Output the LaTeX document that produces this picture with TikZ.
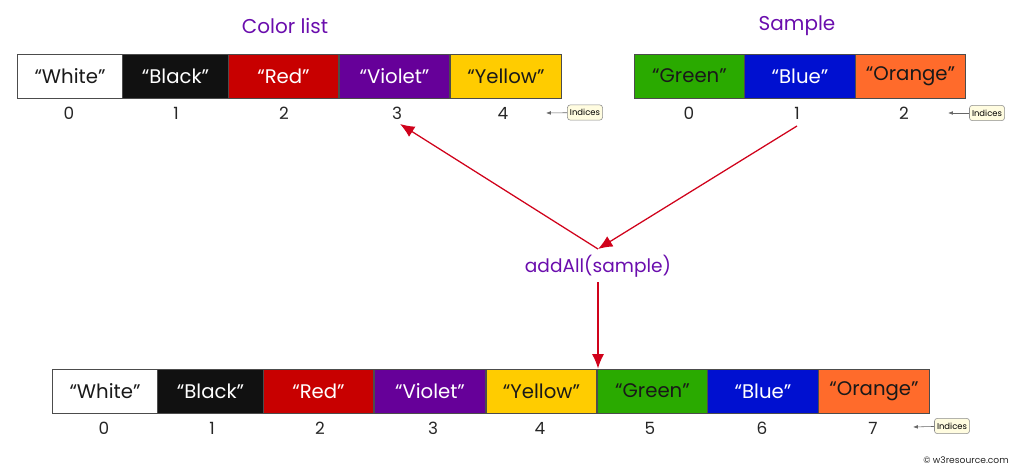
\documentclass[tikz,border=0pt]{standalone}
\usepackage{fontspec}
\setmainfont{Poppins}
\usepackage{xcolor}
\usetikzlibrary{arrows.meta,positioning,calc}
\definecolor{titlevio}{HTML}{6A0DAD}
\definecolor{arrred}{HTML}{D0021B}
\definecolor{cWhite}{HTML}{FFFFFF}
\definecolor{cBlack}{HTML}{111111}
\definecolor{cRed}{HTML}{C80000}
\definecolor{cViolet}{HTML}{660099}
\definecolor{cYellow}{HTML}{FFCC00}
\definecolor{cGreen}{HTML}{2AAA00}
\definecolor{cBlue}{HTML}{0010D0}
\definecolor{cOrange}{HTML}{FF6B2B}
\definecolor{notefill}{HTML}{FFFCE0}

\begin{document}
\begin{tikzpicture}[x=0.025cm,y=-0.025cm,
      every node/.style={font=\fontsize{14}{16}\selectfont},
      cell/.style={draw=black!70,line width=0.6pt,minimum width=2.76cm,minimum height=1.1cm,inner sep=0pt},
      narrow/.style={minimum width=2.64cm},
      lite/.style={text=black!90},
      dark/.style={text=white},
      idx/.style={font=\fontsize{12}{14}\selectfont,text=black!85,inner sep=1pt},
      title/.style={font=\fontsize{14.2}{17}\selectfont,text=titlevio},
      note/.style={draw=black!45,fill=notefill,rounded corners=2pt,font=\fontsize{6}{7}\selectfont,inner sep=1.8pt,minimum height=0.38cm},
      notearr/.style={-{Latex[length=1.2mm,width=0.9mm]},draw=black!60,line width=0.4pt},
      arr/.style={-{Latex[length=3.6mm,width=3mm]},draw=arrred,line width=0.9pt}
  ]
    \useasboundingbox (0,0) rectangle (1022,471);

    % titles
    \node[title] (ctitle) at (285,26) {Color list};
    \node[title] (stitle) at (797,26) {Sample};

    % color list
    \node[cell,narrow,fill=cWhite,lite] (c0) at (70,76) {“White”};
    \node[cell,narrow,fill=cBlack,dark] (c1) at (175.5,76) {“Black”};
    \node[cell,fill=cRed,dark] (c2) at (283.5,76) {“Red”};
    \node[cell,fill=cViolet,dark] (c3) at (394.5,76) {“Violet”};
    \node[cell,fill=cYellow,lite] (c4) at (506,76) {“Yellow”};

    \node[idx] (c0i) at (69,113) {0};
    \node[idx] (c1i) at (176,113) {1};
    \node[idx] (c2i) at (284,113) {2};
    \node[idx] (c3i) at (397,113) {3};
    \node[idx] (c4i) at (503,113) {4};

    % sample
    \node[cell,fill=cGreen,lite] (s0) at (689.5,76) {“Green”};
    \node[cell,fill=cBlue,dark] (s1) at (800,76) {“Blue”};
    \node[cell,fill=cOrange,lite] (s2) at (910.5,76) {“Orange”};

    \node[idx] (s0i) at (689,113) {0};
    \node[idx] (s1i) at (797,113) {1};
    \node[idx] (s2i) at (904,113) {2};

    % result
    \node[cell,narrow,fill=cWhite,lite] (b0) at (105,391) {“White”};
    \node[cell,narrow,fill=cBlack,dark] (b1) at (210.5,391) {“Black”};
    \node[cell,fill=cRed,dark] (b2) at (318.5,391) {“Red”};
    \node[cell,fill=cViolet,dark] (b3) at (430,391) {“Violet”};
    \node[cell,fill=cYellow,lite] (b4) at (541.5,391) {“Yellow”};
    \node[cell,fill=cGreen,lite] (b5) at (652.5,391) {“Green”};
    \node[cell,fill=cBlue,dark] (b6) at (763,391) {“Blue”};
    \node[cell,fill=cOrange,lite] (b7) at (874,391) {“Orange”};

    \node[idx] (b0i) at (104,428) {0};
    \node[idx] (b1i) at (212,428) {1};
    \node[idx] (b2i) at (320,428) {2};
    \node[idx] (b3i) at (433,428) {3};
    \node[idx] (b4i) at (540,428) {4};
    \node[idx] (b5i) at (650,428) {5};
    \node[idx] (b6i) at (762,428) {6};
    \node[idx] (b7i) at (873,428) {7};

    % index notes
    \node[note] (n1) at (585,112.5) {Indices};
    \coordinate (n1t) at (546,113);
    \node[note] (n2) at (987,113) {Indices};
    \coordinate (n2t) at (948,113);
    \node[note] (n3) at (952,426) {Indices};
    \coordinate (n3t) at (913,427);
    \draw[notearr] (n1) -- (n1t);
    \draw[notearr] (n2) -- (n2t);
    \draw[notearr] (n3) -- (n3t);

    % operation
    \node[title,font=\fontsize{13.2}{16}\selectfont] (add) at (598,266) {addAll(sample)};
    \coordinate (meet) at (598,249);
    \coordinate (c3tip) at (400,124);
    \coordinate (s1tail) at (797,126);

    \draw[arr] (s1tail) -- (meet);
    \draw[arr] (meet) -- (c3tip);
    \draw[arr] (add.south) -- (add.south |- b4.north);

    \node[font=\fontsize{6.5}{8}\selectfont,text=black!85] (copy) at (966,460) {© w3resource.com};
  \end{tikzpicture}
\end{document}
